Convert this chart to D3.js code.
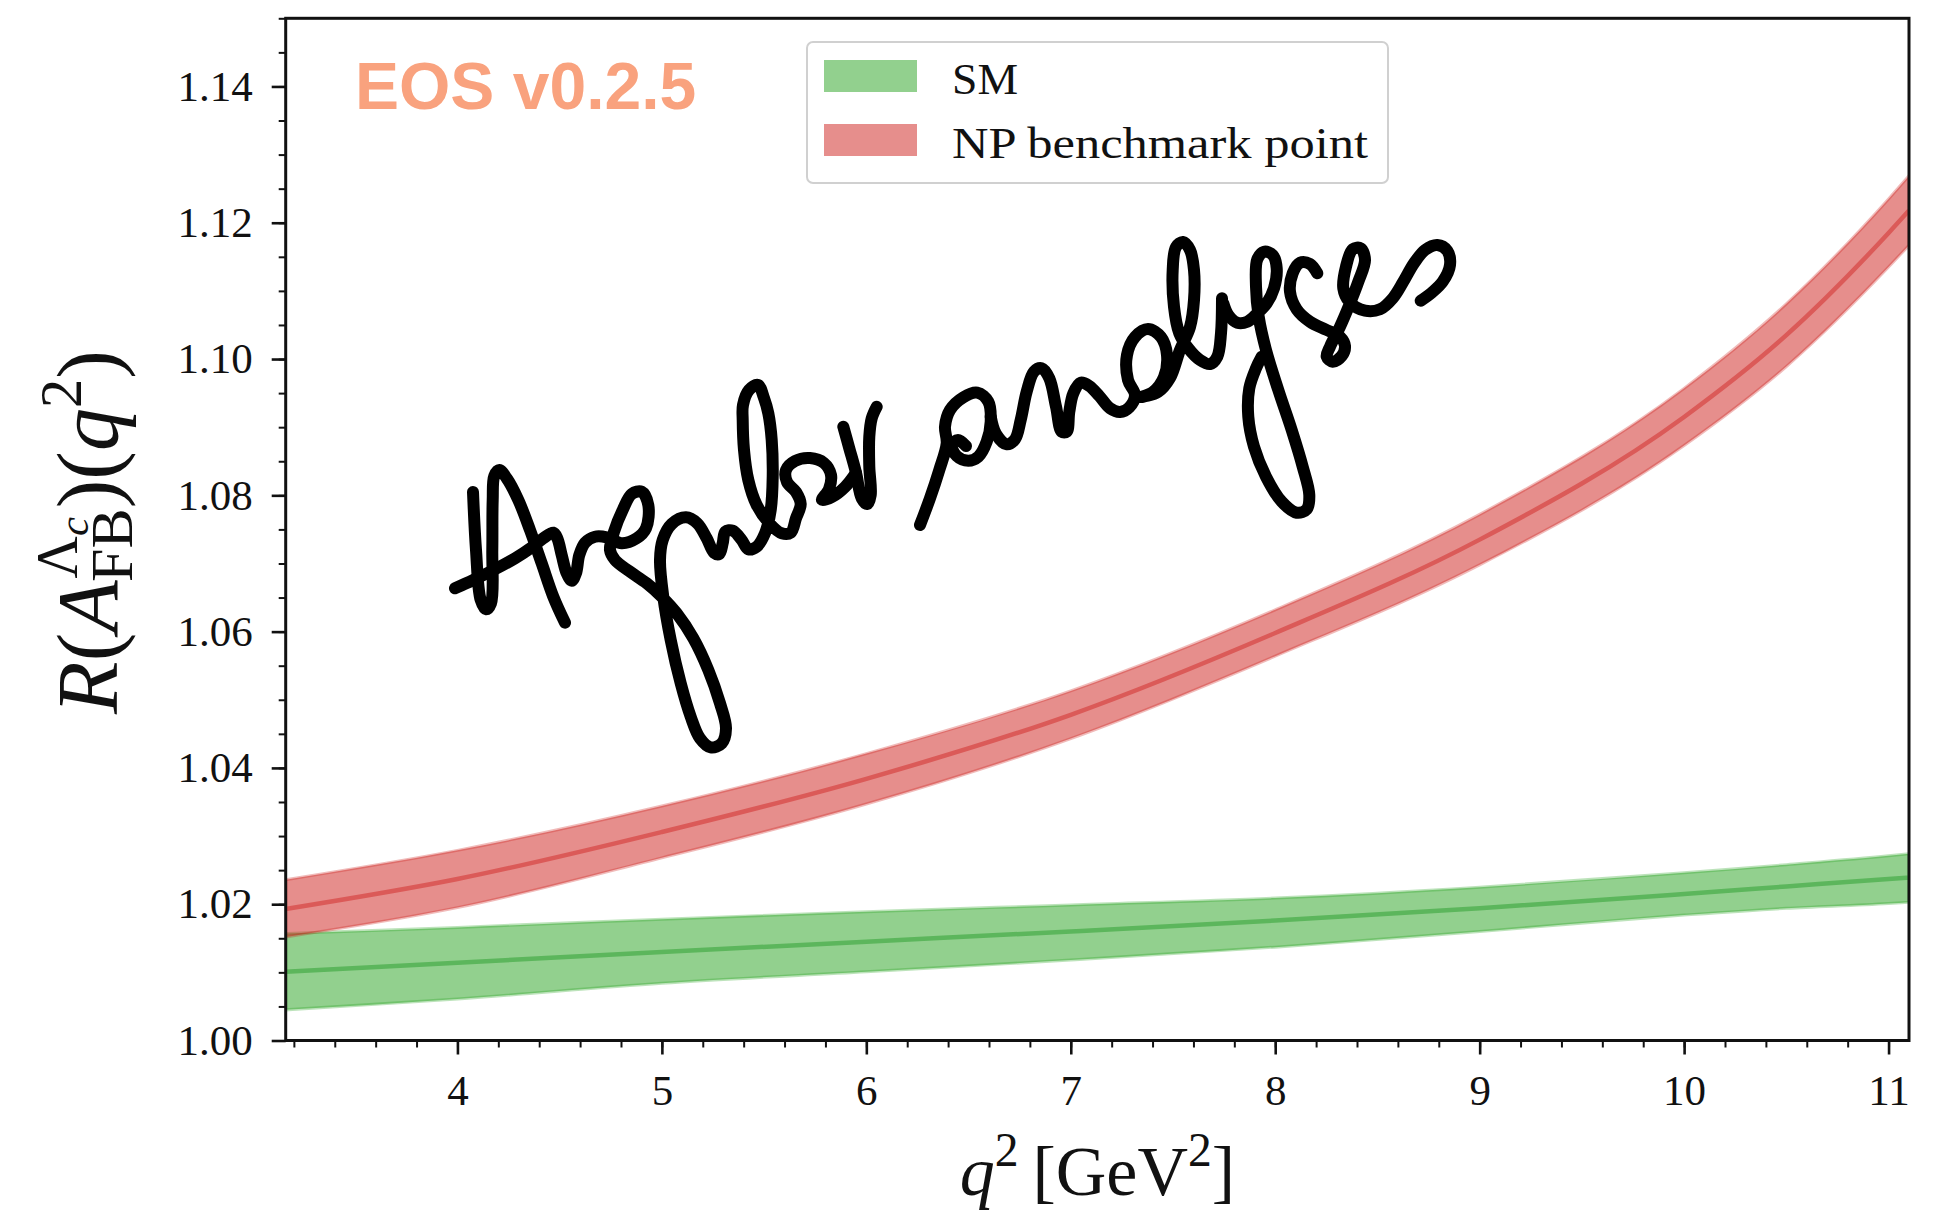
<!DOCTYPE html>
<html>
<head>
<meta charset="utf-8">
<script src="https://cdn.jsdelivr.net/npm/d3@7"></script>
<style>
  html, body { margin: 0; padding: 0; background: #ffffff; }
  svg { display: block; }
  .serif { font-family: "Liberation Serif", "Times New Roman", serif; fill: #111; }
</style>
</head>
<body>
<svg id="chart" width="1946" height="1224"></svg>
<script>
// q^2 grid in GeV^2 and the ratio R(A_FB) for both scenarios (central value and 1-sigma band)
const q2        = [3.16, 4, 5, 6, 7, 8, 9, 10, 10.5, 11, 11.1];
const smCentral = [1.0101, 1.0114, 1.0130, 1.0145, 1.0160, 1.0176, 1.0194, 1.0215, 1.0226, 1.0237, 1.0239];
const smUpper   = [1.0157, 1.0166, 1.0178, 1.0189, 1.0199, 1.0209, 1.0225, 1.0246, 1.0258, 1.0271, 1.0274];
const smLower   = [1.0045, 1.0061, 1.0084, 1.0101, 1.0118, 1.0137, 1.0160, 1.0184, 1.0194, 1.0201, 1.0203];
const npCentral = [1.0193, 1.0237, 1.0306, 1.0384, 1.0478, 1.0598, 1.0735, 1.0915, 1.1035, 1.1185, 1.1218];
const npUpper   = [1.0236, 1.0279, 1.0344, 1.0421, 1.0513, 1.0632, 1.0772, 1.0957, 1.1081, 1.1235, 1.1269];
const npLower   = [1.0152, 1.0195, 1.0268, 1.0347, 1.0443, 1.0564, 1.0698, 1.0873, 1.0989, 1.1135, 1.1167];

const seriesNames = ["SM", "NP benchmark point"];
const xTicks = [4, 5, 6, 7, 8, 9, 10, 11];
const yTicks = [1.00, 1.02, 1.04, 1.06, 1.08, 1.10, 1.12, 1.14];
const watermark = "EOS v0.2.5";

// Handwritten note over the plot: "Angular analyses" (pen strokes, page pixels)
const penStrokes = [
  [[473,492],[476,550],[480.7,600],[486,609.3],[491,603.3],[492.3,550],[492.7,500],[494.3,476],[499.3,470],[506.7,478.3],[518.3,500],[530,530],[541.7,563.3],[553.3,596.7],[565,622.7]],
  [[455,588.3],[473.3,580],[495,569.3],[515,558.3],[531.7,547.3],[543.3,538.3],[553.3,532.7],[557.3,538.3],[561.7,555],[566.7,573.3],[571.7,580.7],[576,573.3],[579.3,555],[585,542.7],[595,536.7],[606.7,537.3],[621.7,543.3],[636.7,538.3],[646,528.3],[648.3,505],[641.7,491.7],[631.7,494],[622.7,510],[614,531.7],[610,550],[615,560],[630,571.7],[646.7,583.3],[661.7,596.7],[676.7,613.3],[693.3,638.3],[708.3,670],[720,703.3],[726,728.3],[721.7,743.3],[710.7,747.3],[700,738.3],[690.7,716.7],[680.7,683.3],[670.7,640],[663.3,596.7],[660,560],[662.7,540],[671.7,524],[686,517.3],[697.3,523.3],[706.7,538.3],[714,552.7],[719.3,554],[722.7,543.3],[725.3,531.7],[732.7,530.7],[741.7,540],[748.3,549.3],[756.7,546.7],[765,533.3],[770.7,510],[772.7,476.7],[771.7,440],[768.3,413.3],[764,398],[758,385],[749,390],[743,405],[742.7,420],[744,450],[748.3,480],[756.7,505],[770,524],[781.7,533.3],[790.7,532.7],[796,518.3],[800.7,504],[796,492],[787,482],[786,470],[795,461],[810,458],[824,463],[831,475],[829,489],[822,500],[832,497],[845,487],[856,473]],
  [[843.3,426.7],[849.3,448.3],[856,472.7],[861.7,498.3],[867.3,504],[870.7,495],[869.3,466.7],[869.3,436.7],[871.7,418.3],[876.7,406.7]],
  [[920,525],[930,498.3],[939.3,470],[946.7,443.3],[945,426.7],[950,410],[963.3,397.3],[977.3,392.7],[988.3,401.7],[990.7,421.7],[986.7,441.7],[978.3,456.7],[968.3,460.7],[956.7,456],[951.7,445],[958,440],[966,446]],
  [[990.7,416.7],[996,434],[1006.7,444.3],[1015,439.3],[1020.7,420],[1026.7,391.7],[1034,371.7],[1041.7,368.3],[1049.3,378.3],[1056,406.7],[1061.7,431.7],[1066.7,431.7],[1069.3,411.7],[1073.3,393.3],[1080.7,382.7],[1089.3,386],[1099.3,396],[1110,408.3],[1120,412],[1129.3,407.3],[1135,395],[1128,380],[1127,355],[1135,337],[1148,329],[1161,337],[1167,355],[1164,377],[1153,392],[1141,397],[1158,392],[1170,378],[1180,350],[1190,327],[1194,300],[1194,270],[1190,250],[1183,242],[1176,247],[1172.7,270],[1174,306.7],[1179.3,333.3],[1188.3,348.3],[1200,360],[1210,364],[1217.3,356.7],[1221,333.3],[1222,298.3]],
  [[1223.3,303.3],[1228.3,315],[1237.3,322.7],[1247.3,321.7],[1257.3,313.3],[1266.7,303.3],[1274,288.3],[1276.7,268.3],[1272.7,255],[1264,251.7],[1257.3,259.3],[1256,286.7],[1258.7,316.7],[1266,350],[1278.3,390],[1291.7,430],[1302.7,466.7],[1309.3,495],[1306.7,509.3],[1296.7,512.7],[1281.7,501.7],[1266,476.7],[1254,446.7],[1248.3,416.7],[1249.3,388.3],[1256,368.3],[1261.7,356.7]],
  [[1317.3,273.3],[1310,264],[1300,262.7],[1292.7,273.3],[1290,291.7],[1296.7,309.3],[1310,321.7],[1326.7,330],[1340,336.7],[1345,346],[1341.7,356],[1332.7,361.7],[1326.7,356.7],[1330,346.7],[1340,326.7],[1349.3,305],[1358.3,281.7],[1365,260],[1360.7,248.3],[1352.7,249.3],[1346,266.7],[1343.3,288.3],[1349.3,301.7],[1365,310.7],[1380,309.3],[1392.7,298.3],[1403.3,281.7],[1414,263.3],[1425,250],[1437.3,245],[1447.3,250.7],[1450,265],[1442.7,281.7],[1431.7,292.7],[1420.7,300.7]]
];

const svg = d3.select("#chart");
const M = { left: 285.7, top: 18.3, right: 37, bottom: 183.5 };
const W = 1946 - M.left - M.right;
const H = 1224 - M.top - M.bottom;

const x = d3.scaleLinear().domain([3.16, 11.1]).range([0, W]);
const y = d3.scaleLinear().domain([1.0, 1.15]).range([H, 0]);

const plot = svg.append("g").attr("transform", `translate(${M.left},${M.top})`);
svg.append("defs").append("clipPath").attr("id", "plot-clip")
  .append("rect").attr("width", W).attr("height", H);

// Bands and central curves
const series = [
  { name: seriesNames[0], central: smCentral, upper: smUpper, lower: smLower, base: "#25a11d", line: "#5cb65c" },
  { name: seriesNames[1], central: npCentral, upper: npUpper, lower: npLower, base: "#cd1d19", line: "#db5a58" }
];

const area = d3.area().curve(d3.curveMonotoneX)
  .x(d => x(d.q)).y0(d => y(d.lo)).y1(d => y(d.hi));
const line = d3.line().curve(d3.curveMonotoneX)
  .x(d => x(d.q)).y(d => y(d.v));

const bands = plot.append("g").attr("clip-path", "url(#plot-clip)");
series.forEach(s => {
  const pts = q2.map((q, i) => ({ q, lo: s.lower[i], hi: s.upper[i], v: s.central[i] }));
  bands.append("path").datum(pts).attr("d", area)
    .attr("fill", s.base).attr("fill-opacity", 0.5)
    .attr("stroke", s.base).attr("stroke-opacity", 0.3).attr("stroke-width", 3);
  bands.append("path").datum(pts).attr("d", line)
    .attr("fill", "none").attr("stroke", s.line).attr("stroke-width", 4.5);
});

// Axes: major and minor ticks, outward
const fmtY = d3.format(".2f");
const yMinor = d3.range(1.0, 1.1501, 0.005).map(v => +v.toFixed(3));
const xMinor = d3.range(3.2, 11.01, 0.2).map(v => +v.toFixed(1));

function styleAxis(g) {
  g.select(".domain").remove();
  g.selectAll(".tick line").attr("stroke", "#111");
  g.selectAll(".tick text").attr("class", "serif").attr("font-size", 43)
    .attr("font-family", "Liberation Serif, serif").attr("fill", "#111");
}

plot.append("g").call(d3.axisLeft(y).tickValues(yMinor).tickSize(7).tickFormat(""))
  .call(styleAxis).selectAll(".tick line").attr("stroke-width", 2);
plot.append("g").call(d3.axisLeft(y).tickValues(yTicks).tickSize(14).tickPadding(19).tickFormat(fmtY))
  .call(styleAxis).selectAll(".tick line").attr("stroke-width", 2.6);

plot.append("g").attr("transform", `translate(0,${H})`)
  .call(d3.axisBottom(x).tickValues(xMinor).tickSize(7).tickFormat(""))
  .call(styleAxis).selectAll(".tick line").attr("stroke-width", 2);
plot.append("g").attr("transform", `translate(0,${H})`)
  .call(d3.axisBottom(x).tickValues(xTicks).tickSize(14).tickPadding(20).tickFormat(d3.format("d")))
  .call(styleAxis).selectAll(".tick line").attr("stroke-width", 2.6);

// Frame
plot.append("rect").attr("width", W).attr("height", H)
  .attr("fill", "none").attr("stroke", "#111").attr("stroke-width", 3);

// Watermark
plot.append("text").attr("x", 355 - M.left).attr("y", 109 - M.top)
  .attr("font-family", "Liberation Sans, Arial, sans-serif").attr("font-weight", "bold")
  .attr("font-size", 66).attr("fill", "#f9a27e").text(watermark);

// Legend
const legend = svg.append("g").attr("transform", "translate(807,42)");
legend.append("rect").attr("width", 581).attr("height", 141).attr("rx", 6)
  .attr("fill", "#ffffff").attr("fill-opacity", 0.85)
  .attr("stroke", "#d0d0d0").attr("stroke-width", 2);
const legendWidths = [66, 416];
series.forEach((s, i) => {
  const row = legend.append("g").attr("transform", `translate(0,${i * 64})`);
  row.append("rect").attr("x", 17).attr("y", 18).attr("width", 93).attr("height", 32)
    .attr("fill", s.base).attr("fill-opacity", 0.5);
  row.append("text").attr("class", "serif").attr("x", 145).attr("y", 52)
    .attr("font-size", 45).attr("textLength", legendWidths[i])
    .attr("lengthAdjust", "spacingAndGlyphs").text(s.name);
});

// Mathematical axis labels assembled from pieces
function buildMath(g, parts, base) {
  let xPos = 0, mark = 0, markEnd = 0;
  parts.forEach(p => {
    const fs = base * (p.s || 1);
    if (p.mark) { mark = xPos; markEnd = xPos; }
    const start = (p.stack ? mark : xPos) + (p.dx || 0) * base;
    const t = g.append("text").attr("class", "serif")
      .attr("x", start).attr("y", (p.dy || 0) * base)
      .attr("font-size", fs).attr("font-style", p.it ? "italic" : "normal")
      .text(p.t);
    const end = start + t.node().getComputedTextLength();
    if (p.mark || p.stack || p.inScript) { markEnd = Math.max(markEnd, end); xPos = markEnd; }
    else { xPos = end; }
  });
  return xPos;
}

const yLab = svg.append("g");
const yLabInner = yLab.append("g");
const yLen = buildMath(yLabInner, [
  { t: "R", it: true },
  { t: "(" },
  { t: "A", it: true },
  { t: "\u039B", s: 0.68, dy: -0.46, mark: true, dx: 0.02 },
  { t: "c", s: 0.5, dy: -0.34, it: true, inScript: true },
  { t: "FB", s: 0.7, dy: 0.18, stack: true, dx: -0.02 },
  { t: ")" },
  { t: "(" },
  { t: "q", it: true },
  { t: "2", s: 0.68, dy: -0.42 },
  { t: ")" }
], 86);
yLabInner.attr("transform", `translate(${-yLen / 2},0)`);
yLab.attr("transform", "translate(117,532) rotate(-90)");

const xLab = svg.append("g");
const xLabInner = xLab.append("g");
const xLen = buildMath(xLabInner, [
  { t: "q", it: true },
  { t: "2", s: 0.68, dy: -0.42 },
  { t: "[GeV", dx: 0.2 },
  { t: "2", s: 0.68, dy: -0.42 },
  { t: "]" }
], 70);
xLabInner.attr("transform", `translate(${-xLen / 2},0)`);
xLab.attr("transform", `translate(${M.left + W / 2},1195)`);

// Handwritten note
const pen = d3.line().curve(d3.curveCatmullRom.alpha(0.5));
svg.append("g").selectAll("path").data(penStrokes).join("path")
  .attr("d", pen).attr("fill", "none").attr("stroke", "#000")
  .attr("stroke-width", 12).attr("stroke-linecap", "round").attr("stroke-linejoin", "round");
</script>
</body>
</html>
